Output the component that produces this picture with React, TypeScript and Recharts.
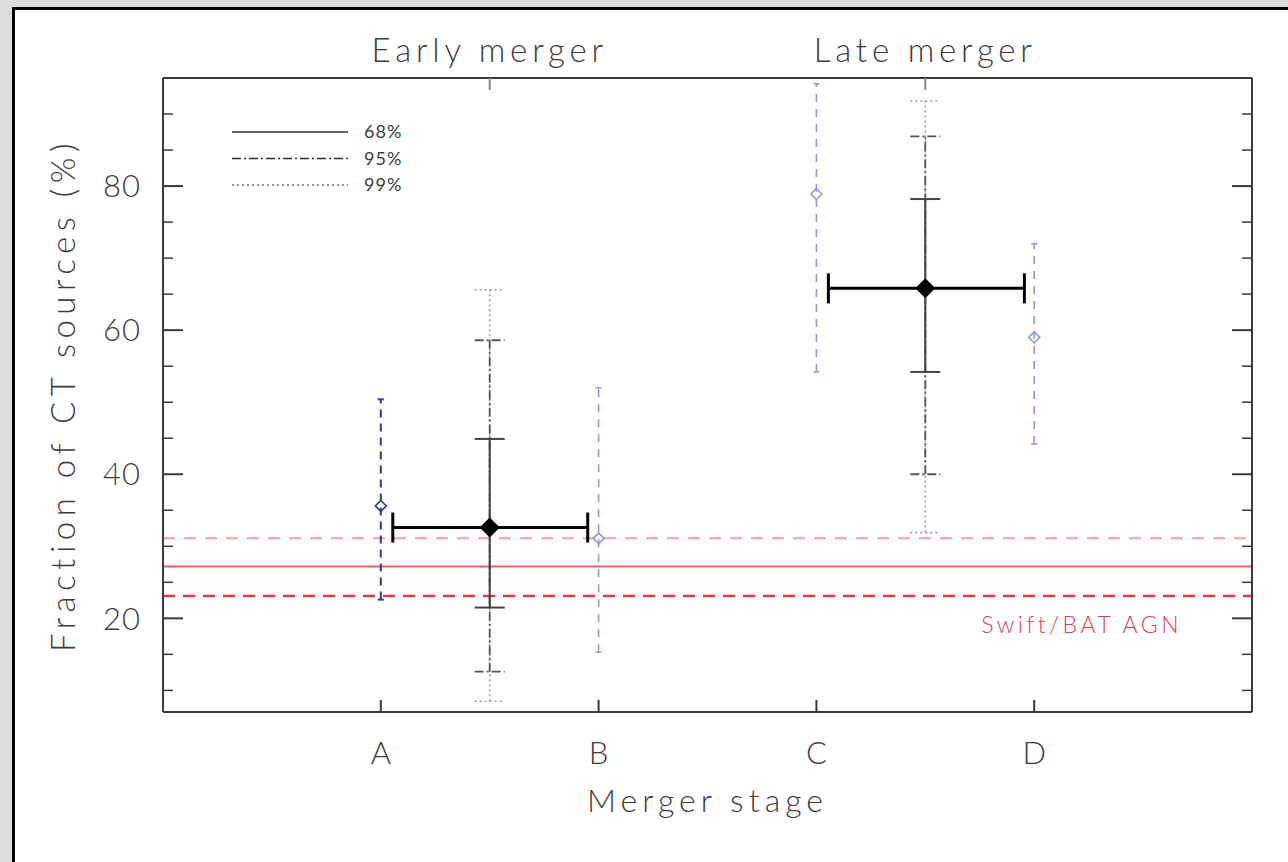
import React from 'react';
import {
  ComposedChart, Scatter, ErrorBar, XAxis, YAxis, ReferenceLine, Legend,
} from 'recharts';

// x positions: merger stages A-D sit on 1..4, the two phases in between
const stageNames = ['A', 'B', 'C', 'D'];
const stagePos = [1, 2, 3, 4];
const phaseNames = ['Early merger', 'Late merger'];
const phasePos = [1.5, 3.5];

const yTicks = [10, 15, 20, 25, 30, 35, 40, 45, 50, 55, 60, 65, 70, 75, 80, 85, 90];
const yMajor = [20, 40, 60, 80];

// combined early / late merger fractions (black diamonds)
const phaseFrac = [32.6, 65.8];
const phaseXLow = [1.055, 3.055];
const phaseXHigh = [1.95, 3.955];
const phaseLow68 = [21.5, 54.2];
const phaseHigh68 = [44.9, 78.2];
const phaseLow95 = [12.6, 40.0];
const phaseHigh95 = [58.6, 86.9];
const phaseLow99 = [8.5, 31.9];
const phaseHigh99 = [65.6, 91.8];

// single stages (blue open diamonds)
const stageFrac = [35.6, 31.1, 78.9, 59.0];
const stageLow = [22.6, 15.3, 54.2, 44.2];
const stageHigh = [50.4, 52.0, 94.2, 72.0];

// Swift/BAT AGN reference fraction
const batFrac = 27.2;
const batLow = 23.1;
const batHigh = 31.1;

const legendLabels = ['68%', '95%', '99%'];

const FONT = "'Lato', 'DejaVu Sans', sans-serif";
const INK = '#3c3c3c';
const AXIS = '#3a3a3a';

const phaseRows = phasePos.map((x, i) => ({
  x,
  y: phaseFrac[i],
  ex: [x - phaseXLow[i], phaseXHigh[i] - x],
  e68: [phaseFrac[i] - phaseLow68[i], phaseHigh68[i] - phaseFrac[i]],
  e95: [phaseFrac[i] - phaseLow95[i], phaseHigh95[i] - phaseFrac[i]],
  e99: [phaseFrac[i] - phaseLow99[i], phaseHigh99[i] - phaseFrac[i]],
}));

const stageRows = stagePos.map((x, i) => ({
  x,
  y: stageFrac[i],
  e: [stageFrac[i] - stageLow[i], stageHigh[i] - stageFrac[i]],
}));

const LEFT_GAP = 22;
const BOTTOM_GAP = 30;
const TOP_GAP = 16;

const LeftTick = (props: any) => {
  const { x, y, payload } = props;
  const major = yMajor.includes(payload.value);
  const ax = x + LEFT_GAP;
  return (
    <g>
      <line x1={ax} x2={ax + (major ? 20 : 10)} y1={y} y2={y} stroke={AXIS} strokeWidth={major ? 2 : 1.5} />
      {major && (
        <text x={x} y={y} dy="0.36em" textAnchor="end" fontSize={31} fill={INK} fontFamily={FONT} fontWeight={300}
          letterSpacing={1}>
          {payload.value}
        </text>
      )}
    </g>
  );
};

const RightTick = (props: any) => {
  const { x, y, payload } = props;
  const major = yMajor.includes(payload.value);
  return <line x1={x} x2={x - (major ? 20 : 10)} y1={y} y2={y} stroke={AXIS} strokeWidth={major ? 2 : 1.5} />;
};

const BottomTick = (props: any) => {
  const { x, y, payload } = props;
  const ay = y - BOTTOM_GAP;
  return (
    <g>
      <line x1={x} x2={x} y1={ay} y2={ay - 12} stroke={AXIS} strokeWidth={2} />
      <text x={x} y={y} dy="0.72em" textAnchor="middle" fontSize={31} fill={INK} fontFamily={FONT} fontWeight={300}>
        {stageNames[stagePos.indexOf(payload.value)]}
      </text>
    </g>
  );
};

const TopTick = (props: any) => {
  const { x, y, payload } = props;
  const ay = y + TOP_GAP;
  return (
    <g>
      <line x1={x} x2={x} y1={ay} y2={ay + 12} stroke="#888" strokeWidth={2} />
      <text x={x} y={y} textAnchor="middle" fontSize={33} fill={INK} fontFamily={FONT} fontWeight={300} letterSpacing={4.8}>
        {phaseNames[phasePos.indexOf(payload.value)]}
      </text>
    </g>
  );
};

const BlackDiamond = (props: any) => {
  const { cx, cy } = props;
  const r = 10;
  return <polygon points={`${cx},${cy - r} ${cx + r},${cy} ${cx},${cy + r} ${cx - r},${cy}`} fill="#000" />;
};

const OpenDiamond = (color: string) => (props: any) => {
  const { cx, cy } = props;
  return (
    <polygon
      points={`${cx},${cy - 5.5} ${cx + 5.5},${cy} ${cx},${cy + 5.5} ${cx - 5.5},${cy}`}
      fill="none"
      stroke={color}
      strokeWidth={1.6}
    />
  );
};

const legendDash = ['', '9 3 2 3', '2 3'];

const LegendBox = () => (
  <svg width={220} height={80}>
    {legendLabels.map((label, i) => (
      <g key={label}>
        <line x1={4} x2={120} y1={12 + i * 26.5} y2={12 + i * 26.5} stroke={i === 2 ? '#777' : '#333'} strokeWidth={1.6}
          strokeDasharray={legendDash[i] || undefined} />
        <text x={136} y={12 + i * 26.5} dy="0.36em" fontSize={18} fill={INK} fontFamily={FONT} letterSpacing={1}>{label}</text>
      </g>
    ))}
  </svg>
);

const BLUE_DARK = '#2c3894';
const BLUE_LIGHT = '#9298d4';

export default function App() {
  return (
    <div style={{ position: 'fixed', left: 0, top: 0, width: 1288, height: 862, background: '#dcdcdc', overflow: 'hidden' }}>
      <div
        style={{
          position: 'absolute', left: 12, top: 7, width: 1276, height: 855, background: '#fff',
          borderLeft: '3px solid #000', borderTop: '3px solid #000', boxSizing: 'border-box',
        }}
      />
      <div style={{ position: 'absolute', left: 0, top: 0 }}>
        <ComposedChart width={1288} height={862} margin={{ top: 38, right: 35, bottom: 50, left: 63 }}>
          <XAxis
            dataKey="x" type="number" domain={[0, 5]} ticks={stagePos} interval={0} allowDataOverflow
            tick={<BottomTick />} tickLine={false} tickSize={0} tickMargin={BOTTOM_GAP} height={100}
            axisLine={{ stroke: AXIS, strokeWidth: 2 }}
            label={(p: any) => (
              <text x={p.viewBox.x + p.viewBox.width / 2} y={p.viewBox.y + 100} textAnchor="middle" fontSize={32}
                fill={INK} fontFamily={FONT} fontWeight={300} letterSpacing={5}>Merger stage</text>
            )}
          />
          <XAxis
            xAxisId="top" dataKey="x" orientation="top" type="number" domain={[0, 5]} ticks={phasePos} interval={0}
            allowDataOverflow tick={<TopTick />} tickLine={false} tickSize={0} tickMargin={TOP_GAP} height={40}
            axisLine={{ stroke: AXIS, strokeWidth: 2 }}
          />
          <YAxis
            dataKey="y" type="number" domain={[7, 95]} ticks={yTicks} interval={0} allowDataOverflow
            tick={<LeftTick />} tickLine={false} tickSize={0} tickMargin={LEFT_GAP} width={100}
            axisLine={{ stroke: AXIS, strokeWidth: 2 }}
            label={(p: any) => {
              const lx = p.viewBox.x + p.viewBox.width - 88;
              const ly = p.viewBox.y + p.viewBox.height / 2;
              return (
                <text x={lx} y={ly} transform={`rotate(-90, ${lx}, ${ly})`} textAnchor="middle" fontSize={33}
                  fill={INK} fontFamily={FONT} fontWeight={300} letterSpacing={5.5}>Fraction of CT sources (%)</text>
              );
            }}
          />
          <YAxis
            yAxisId="right" orientation="right" type="number" domain={[7, 95]} ticks={yTicks} interval={0} allowDataOverflow
            tick={<RightTick />} tickLine={false} tickSize={0} tickMargin={0} width={1}
            axisLine={{ stroke: AXIS, strokeWidth: 2 }}
          />
          <Legend
            content={() => <LegendBox />}
            layout="horizontal" verticalAlign="middle" align="center"
            wrapperStyle={{ position: 'absolute', left: 228, top: 120, width: 220, height: 80 }}
          />
          <ReferenceLine y={batHigh} stroke="#f2a2aa" strokeWidth={2} strokeDasharray="12 9" />
          <ReferenceLine y={batFrac} stroke="#e8606c" strokeWidth={2} />
          <ReferenceLine
            y={batLow} stroke="#e23a4c" strokeWidth={2.5} strokeDasharray="12 8"
            label={(p: any) => (
              <text x={p.viewBox.x + p.viewBox.width - 70} y={p.viewBox.y + 37} textAnchor="end" fontSize={23}
                fill="#e0404f" fontFamily={FONT} fontWeight={300} letterSpacing={3.5}>Swift/BAT AGN</text>
            )}
          />
          <Scatter data={stageRows.slice(0, 1)} shape={OpenDiamond(BLUE_DARK)} isAnimationActive={false}>
            <ErrorBar dataKey="e" direction="y" width={3} stroke={BLUE_DARK} strokeWidth={2} strokeDasharray="8 6" />
          </Scatter>
          <Scatter data={stageRows.slice(1)} shape={OpenDiamond(BLUE_LIGHT)} isAnimationActive={false}>
            <ErrorBar dataKey="e" direction="y" width={3} stroke={BLUE_LIGHT} strokeWidth={1.6} strokeDasharray="8 7" />
          </Scatter>
          <Scatter xAxisId="top" data={phaseRows} shape={<BlackDiamond />} isAnimationActive={false}>
            <ErrorBar dataKey="e99" direction="y" width={15} stroke="#9a9a9a" strokeWidth={1.6} strokeDasharray="2 3" />
            <ErrorBar dataKey="e95" direction="y" width={15} stroke="#555" strokeWidth={1.8} strokeDasharray="9 3 2 3" />
            <ErrorBar dataKey="e68" direction="y" width={15} stroke="#444" strokeWidth={2} />
            <ErrorBar dataKey="ex" direction="x" width={15} stroke="#000" strokeWidth={3} />
          </Scatter>
        </ComposedChart>
      </div>
    </div>
  );
}
